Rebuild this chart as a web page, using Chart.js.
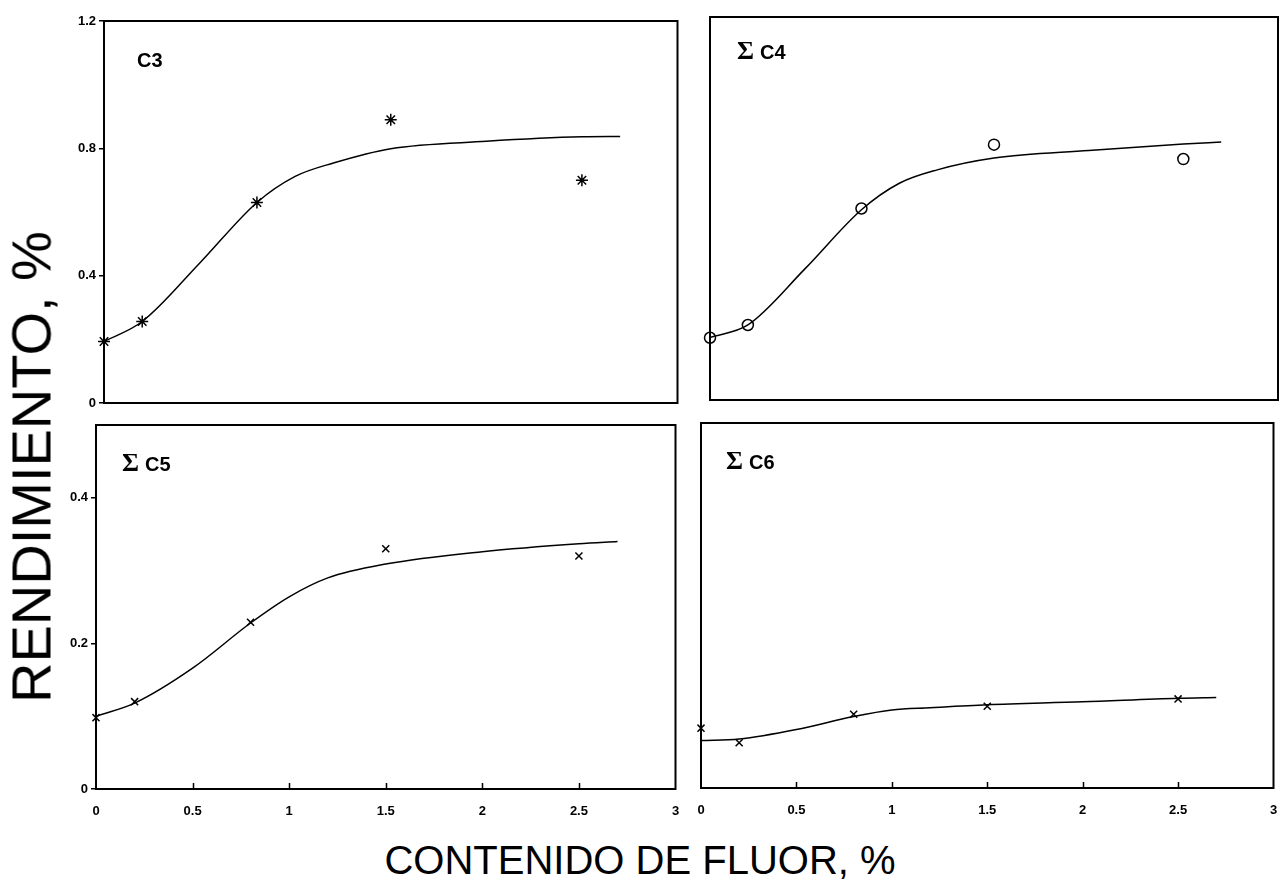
<!DOCTYPE html>
<html>
<head>
<meta charset="utf-8">
<script src="https://cdn.jsdelivr.net/npm/chart.js@4.4.1/dist/chart.umd.min.js"></script>
<style>
  html, body { margin: 0; padding: 0; background: #fff; overflow: hidden; width: 1282px; height: 889px; }
  canvas { position: absolute; }
  .ttl { position: absolute; color: #000; font-family: "Liberation Sans", Arial, sans-serif; white-space: nowrap; }
  .plabel { position: absolute; color: #000; font-family: "Liberation Sans", Arial, sans-serif; font-weight: bold; font-size: 20px; line-height: 24px; white-space: nowrap; }
  .sig { font-family: "Liberation Serif", "DejaVu Serif", serif; font-weight: bold; font-size: 26px; margin-right: 6px; }
</style>
</head>
<body>
<canvas id="c3"></canvas>
<canvas id="c4"></canvas>
<canvas id="c5"></canvas>
<canvas id="c6"></canvas>

<div class="plabel" style="left:137px; top:48px;">C3</div>
<div class="plabel" style="left:737px; top:39px;"><span class="sig">Σ</span>C4</div>
<div class="plabel" style="left:122px; top:451px;"><span class="sig">Σ</span>C5</div>
<div class="plabel" style="left:726px; top:449px;"><span class="sig">Σ</span>C6</div>

<div class="ttl" id="ytitle" style="left:31px; top:467px; font-size:56px; transform: translate(-50%,-50%) rotate(-90deg);">RENDIMIENTO, %</div>
<div class="ttl" id="xtitle" style="left:640px; top:860px; font-size:40px; transform: translate(-50%,-50%);">CONTENIDO DE FLUOR, %</div>

<script>
// ---- data ----
const xTickValues = [0, 0.5, 1, 1.5, 2, 2.5, 3];
const yTicksTop = [0, 0.4, 0.8, 1.2];
const yTicksBottom = [0, 0.2, 0.4];

const measuredX = [0, 0.2, 0.8, 1.5, 2.5];
const c3Measured = [0.193, 0.256, 0.63, 0.89, 0.70];
const c4Measured = [0.195, 0.235, 0.60, 0.80, 0.755];
const c5Measured = [0.098, 0.12, 0.229, 0.33, 0.32];
const c6Measured = [0.082, 0.062, 0.101, 0.112, 0.122];

const curveX = [0, 0.2, 0.5, 0.8, 1.0, 1.2, 1.5, 2.0, 2.5, 2.7];
const c3Curve = [0.193, 0.256, 0.439, 0.63, 0.712, 0.754, 0.799, 0.822, 0.836, 0.837];
const c4Curve = [0.196, 0.235, 0.41, 0.596, 0.679, 0.721, 0.758, 0.782, 0.802, 0.808];
const c5Curve = [0.10, 0.118, 0.166, 0.228, 0.264, 0.29, 0.309, 0.326, 0.337, 0.340];
const c6Curve = [0.065, 0.067, 0.080, 0.098, 0.107, 0.110, 0.114, 0.118, 0.123, 0.124];

// ---- drawing ----
const PAD_TOP = 8, PAD_RIGHT = 6, Y_W = 50, X_H = 34;
const tickFont = { family: '"Liberation Sans", Arial, sans-serif', size: 13, weight: 'bold' };

const framePlugin = {
  id: 'frame',
  afterDraw(chart, args, opts) {
    const { ctx, chartArea: a } = chart;
    ctx.save();
    ctx.strokeStyle = '#000';
    ctx.lineWidth = 2;
    ctx.strokeRect(a.left, a.top, a.right - a.left, a.bottom - a.top);
    if (opts.innerXTicks) {
      const xs = chart.scales.x;
      ctx.lineWidth = 1.5;
      ctx.beginPath();
      xTickValues.slice(1, -1).forEach(v => {
        const px = Math.round(xs.getPixelForValue(v)) + 0.5;
        ctx.moveTo(px, a.bottom);
        ctx.lineTo(px, a.bottom - 6);
      });
      ctx.stroke();
    }
    ctx.restore();
  }
};

function pts(xs, ys) { return xs.map((x, i) => ({ x: x, y: ys[i] })); }

function noPad(s) { s.paddingLeft = 0; s.paddingRight = 0; s.paddingTop = 0; s.paddingBottom = 0; }

function makePanel(id, box, cfg) {
  const cv = document.getElementById(id);
  const w = (box.R - box.L) + Y_W + PAD_RIGHT;
  const h = (box.B - box.T) + PAD_TOP + X_H;
  cv.width = w; cv.height = h;
  cv.style.left = (box.L - Y_W) + 'px';
  cv.style.top = (box.T - PAD_TOP) + 'px';
  cv.style.width = w + 'px'; cv.style.height = h + 'px';

  new Chart(cv, {
    type: 'scatter',
    data: {
      datasets: [
        {
          data: pts(cfg.mx, cfg.my),
          pointStyle: cfg.marker,
          pointRadius: cfg.radius,
          pointBorderWidth: 1.5,
          borderColor: '#000',
          backgroundColor: 'rgba(0,0,0,0)',
          showLine: false,
          clip: false,
          order: 0
        },
        {
          data: pts(curveX, cfg.cy),
          showLine: true,
          borderColor: '#000',
          borderWidth: 1.5,
          pointRadius: 0,
          cubicInterpolationMode: 'monotone',
          fill: false,
          order: 1
        }
      ]
    },
    options: {
      responsive: false,
      animation: false,
      devicePixelRatio: 1,
      layout: { padding: { top: PAD_TOP, right: PAD_RIGHT, left: 0, bottom: 0 } },
      plugins: {
        legend: { display: false },
        tooltip: { enabled: false },
        frame: { innerXTicks: cfg.showX }
      },
      scales: {
        x: {
          type: 'linear', min: 0, max: 3,
          afterBuildTicks: s => { s.ticks = xTickValues.map(v => ({ value: v })); },
          afterFit: s => { s.height = X_H; noPad(s); },
          grid: { display: false, drawTicks: false },
          border: { display: false },
          ticks: { display: cfg.showX, padding: 15, color: '#000', font: tickFont, maxRotation: 0, autoSkip: false, callback: v => String(v) }
        },
        y: {
          type: 'linear', min: 0, max: cfg.yMax,
          afterBuildTicks: s => { s.ticks = cfg.yTicks.map(v => ({ value: v })); },
          afterFit: s => { s.width = Y_W; noPad(s); },
          grid: { display: cfg.showY, drawOnChartArea: false, drawTicks: true, tickLength: 5, color: '#000', lineWidth: 1.5 },
          border: { display: false },
          ticks: { display: cfg.showY, padding: 3, color: '#000', font: tickFont, autoSkip: false, callback: v => String(v) }
        }
      }
    },
    plugins: [framePlugin]
  });
}

makePanel('c3', { L: 104, R: 679, T: 21, B: 403 },
  { mx: measuredX, my: c3Measured, cy: c3Curve, marker: 'star', radius: 6, yMax: 1.2, yTicks: yTicksTop, showY: true, showX: false });
makePanel('c4', { L: 710, R: 1279, T: 17, B: 400 },
  { mx: measuredX, my: c4Measured, cy: c4Curve, marker: 'circle', radius: 5.5, yMax: 1.2, yTicks: yTicksTop, showY: false, showX: false });
makePanel('c5', { L: 96, R: 676, T: 425, B: 789 },
  { mx: measuredX, my: c5Measured, cy: c5Curve, marker: 'crossRot', radius: 5, yMax: 0.5, yTicks: yTicksBottom, showY: true, showX: true });
makePanel('c6', { L: 701, R: 1274, T: 423, B: 788 },
  { mx: measuredX, my: c6Measured, cy: c6Curve, marker: 'crossRot', radius: 5, yMax: 0.5, yTicks: yTicksBottom, showY: false, showX: true });
</script>
</body>
</html>
